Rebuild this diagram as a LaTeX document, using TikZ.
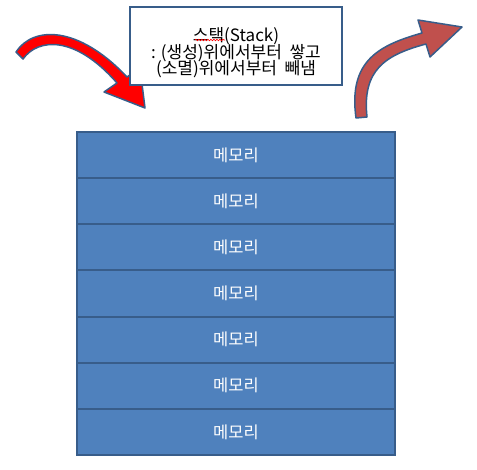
\documentclass[tikz,border=0pt]{standalone}
\usepackage{fontspec}
\setmainfont{Noto Sans CJK KR}
\usetikzlibrary{decorations.pathmorphing}

\definecolor{boxblue}{HTML}{4F81BD}
\definecolor{edgeblue}{HTML}{385D8A}
\definecolor{popred}{HTML}{C0504D}

\begin{document}
\begin{tikzpicture}[x=1pt, y=-1pt,
        membox/.style={draw=edgeblue, line width=2pt, fill=boxblue, text=white,
            minimum width=318pt, minimum height=46.14pt, inner sep=0pt, outer sep=0pt,
            font=\fontsize{16.5}{19}\selectfont},
        notebox/.style={draw=edgeblue, line width=2pt, fill=white,
            minimum width=212pt, minimum height=78pt, inner sep=0pt},
        notetext/.style={align=center, inner sep=0pt,
            font=\fontsize{17}{19.5}\selectfont},
        bendarrow/.style={draw=edgeblue, line width=1.5pt, line join=round}]
    \useasboundingbox (0,0) rectangle (477,469);

    % Push arrow (left)
    \draw[bendarrow, fill=red]
        (16,52) .. controls (33,26) and (78,25) .. (127,77)
        -- (140,68) -- (145,108) -- (104,92) -- (117,83)
        .. controls (75,35) and (38,38) .. (23,59) -- cycle;

    % Pop arrow (right)
    \draw[bendarrow, fill=popred]
        (356,118) .. controls (348,60) and (380,45) .. (422,33)
        -- (418,20) -- (462,27) -- (430,57) -- (426,44)
        .. controls (385,55) and (362,70) .. (367,117) -- cycle;

    % Description
    \node[notebox] (note) at (236,46) {};
    \node[notetext] (notetxt) at (236,53)
        {스택(Stack)\\[-3pt]: (생성)위에서부터\ \ 쌓고\\[-3pt](소멸)위에서부터\ \ 빼냄};
    \coordinate (waveL) at (195,40);
    \coordinate (waveR) at (225,40);
    \draw[red, line width=0.6pt, decorate,
          decoration={snake, amplitude=0.8pt, segment length=3pt}] (waveL) -- (waveR);

    % Stack of memory cells
    \foreach \i in {1,...,7}
        \node[membox] (mem\i) at (236,{132+46.14*(\i-0.5)}) {메모리};
\end{tikzpicture}
\end{document}
